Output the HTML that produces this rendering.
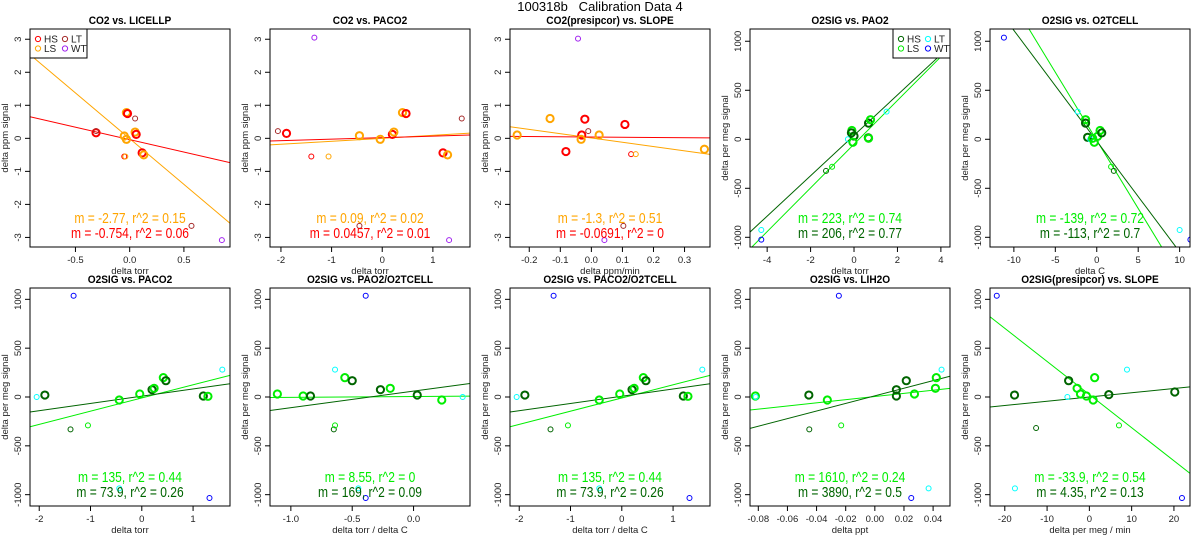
<!DOCTYPE html>
<html><head><meta charset="utf-8"><style>
html,body{margin:0;padding:0;background:#fff;}
svg{display:block;font-family:"Liberation Sans",sans-serif;}
</style></head><body>
<svg id="chart" width="1200" height="550" xmlns="http://www.w3.org/2000/svg">
<rect width="1200" height="550" fill="#fff"/>
<text x="600" y="11" text-anchor="middle" font-size="13" fill="#000" style="white-space:pre">100318b   Calibration Data 4</text>
</svg>
<script>
// ---------- data ----------
const p1X=[-0.31,-0.31,-0.03,-0.02,0.05,-0.05,-0.03,0.05,0.06,0.115,0.13,-0.05,-0.04,0.57,0.85];
const p1Y=[0.17,0.22,0.78,0.75,0.6,0.07,-0.03,0.19,0.12,-0.44,-0.5,-0.55,-0.55,-2.65,-3.08];
const p1G=['HS','LT','LS','HS','LT','LS','LS','LS','HS','HS','LS','hs','ls','LT','WT'];
const p1Slope=[-2.77,-0.754], p1Int=[-0.01,-0.04], p1R2=[0.15,0.06];

const p2X=[-2.06,-1.89,-1.34,-1.40,-1.06,-0.45,-0.45,-0.04,0.2,0.23,0.40,0.47,1.2,1.29,1.57,1.32];
const p2Y=[0.22,0.15,3.05,-0.55,-0.55,0.08,-2.65,-0.03,0.12,0.19,0.78,0.75,-0.44,-0.5,0.6,-3.08];
const p2G=['LT','HS','WT','hs','ls','LS','LT','LS','HS','LS','LS','HS','HS','LS','LT','WT'];
const p2Slope=[0.09,0.0457], p2Int=[0.0,0.02], p2R2=[0.02,0.01];

const p3X=[-0.239,-0.133,-0.043,-0.021,-0.082,-0.031,-0.033,-0.01,0.025,0.108,0.128,0.143,0.103,0.042,0.364];
const p3Y=[0.1,0.6,3.02,0.58,-0.4,0.1,-0.03,0.22,0.1,0.42,-0.48,-0.48,-2.65,-3.08,-0.33];
const p3G=['LS','LS','WT','HS','HS','HS','LS','LT','LS','HS','hs','ls','LT','WT','LS'];
const p3Slope=[-1.3,-0.0691], p3Int=[0.01,0.04], p3R2=[0.51,0];

const p4X=[-4.27,-4.27,-1.29,-1.01,-0.28,-0.1,-0.12,0,-0.05,0.67,0.76,0.66,0.67,1.5];
const p4Y=[-925,-1024,-323,-280,0,90,65,34,-30,165,200,15,10,282];
const p4G=['LT','WT','hs','ls','LT','LS','HS','HS','LS','HS','LS','HS','LS','LT'];
const p4Slope=[223,206], p4Int=[-50,40], p4R2=[0.74,0.77];

const p5X=[-11.2,-2.3,-1.35,-1.35,-1.1,-0.8,-0.5,-0.3,0.1,0.4,0.6,1.73,2.06,10.0,11.3];
const p5Y=[1037,282,200,165,20,0,10,-30,30,90,65,-280,-323,-925,-1024];
const p5G=['WT','LT','LS','HS','HS','LT','LS','LS','LS','LS','HS','ls','hs','LT','WT'];
const p5Slope=[-139,-113], p5Int=[-11,-19], p5R2=[0.72,0.7];

const p6X=[-2.05,-1.89,-1.33,-1.39,-1.05,-0.44,-0.44,-0.04,0.2,0.24,0.42,0.47,1.2,1.29,1.32,1.57];
const p6Y=[0,20,1037,-331,-290,-31,-935,31,75,89,198,167,10,7,-1034,280];
const p6G=['LT','HS','WT','hs','ls','LS','LT','LS','HS','LS','LS','HS','HS','LS','WT','LT'];
const p6Slope=[135,73.9], p6Int=[-10,8], p6R2=[0.44,0.26];

const p7X=[-1.11,-0.9,-0.84,-0.65,-0.64,-0.64,-0.56,-0.5,-0.45,-0.39,-0.39,-0.27,-0.19,0.03,0.23,0.4];
const p7Y=[31,10,10,-331,-290,280,198,167,-935,1037,-1034,75,89,20,-31,0];
const p7G=['LS','LS','HS','hs','ls','LT','LS','HS','LT','WT','WT','HS','LS','HS','LS','LT'];
const p7Slope=[8.55,169], p7Int=[5,60], p7R2=[0,0.09];

const p8X=p6X.slice(), p8Y=p6Y.slice(), p8G=p6G.slice();
const p8Slope=[135,73.9], p8Int=[-10,8], p8R2=[0.44,0.26];

const p9X=[-0.082,-0.0818,-0.0453,-0.045,-0.0326,-0.0247,-0.0231,0.0148,0.0148,0.0216,0.0272,0.025,0.0369,0.0416,0.0422,0.0458];
const p9Y=[10,0,20,-331,-31,1037,-290,75,10,167,31,-1034,-935,89,198,280];
const p9G=['LS','LT','HS','hs','LS','WT','ls','HS','HS','HS','LS','WT','LT','LS','LS','LT'];
const p9Slope=[1610,3890], p9Int=[5,12], p9R2=[0.24,0.5];

const p10X=[-21.9,-17.7,-17.6,-12.6,-5.2,-4.9,-2.9,-2.1,-0.7,0.9,1.25,4.6,7.0,8.9,20.2,21.9];
const p10Y=[1037,20,-935,-318,0,167,89,31,10,-31,198,24,-290,280,51,-1034];
const p10G=['WT','HS','LT','hs','LT','HS','LS','LS','LS','LS','LS','HS','ls','LT','HS','WT'];
const p10Slope=[-33.9,4.35], p10Int=[25,0], p10R2=[0.54,0.13];

// ---------- layout ----------
const panels=[
 {id:'co2-vs-licellp',title:'CO2 vs. LICELLP',xlab:'delta torr',ylab:'delta ppm signal',col:0,row:0,xr:[-0.919,0.925],yr:[-3.29,3.31],xt:[-0.5,0,0.5],yt:[-3,-2,-1,0,1,2,3],xtl:['-0.5','0.0','0.5'],kind:'co2',X:p1X,Y:p1Y,G:p1G,S:p1Slope,I:p1Int,R:p1R2,legend:true},
 {id:'co2-vs-paco2',title:'CO2 vs. PACO2',xlab:'delta torr',ylab:'delta ppm signal',col:1,row:0,xr:[-2.216,1.733],yr:[-3.29,3.31],xt:[-2,-1,0,1],yt:[-3,-2,-1,0,1,2,3],kind:'co2',X:p2X,Y:p2Y,G:p2G,S:p2Slope,I:p2Int,R:p2R2},
 {id:'co2-presipcor-vs-slope',title:'CO2(presipcor) vs. SLOPE',xlab:'delta ppm/min',ylab:'delta ppm signal',col:2,row:0,xr:[-0.262,0.382],yr:[-3.29,3.31],xt:[-0.2,-0.1,0,0.1,0.2,0.3],xtl:['-0.2','-0.1','0.0','0.1','0.2','0.3'],yt:[-3,-2,-1,0,1,2,3],kind:'co2',X:p3X,Y:p3Y,G:p3G,S:p3Slope,I:p3Int,R:p3R2},
 {id:'o2sig-vs-pao2',title:'O2SIG vs. PAO2',xlab:'delta torr',ylab:'delta per meg signal',col:3,row:0,xr:[-4.79,4.42],yr:[-1099,1125],xt:[-4,-2,0,2,4],yt:[-1000,-500,0,500,1000],kind:'o2',X:p4X,Y:p4Y,G:p4G,S:p4Slope,I:p4Int,R:p4R2,legend:true},
 {id:'o2sig-vs-o2tcell',title:'O2SIG vs. O2TCELL',xlab:'delta C',ylab:'delta per meg signal',col:4,row:0,xr:[-12.88,11.25],yr:[-1099,1125],xt:[-10,-5,0,5,10],yt:[-1000,-500,0,500,1000],kind:'o2',X:p5X,Y:p5Y,G:p5G,S:p5Slope,I:p5Int,R:p5R2},
 {id:'o2sig-vs-paco2',title:'O2SIG vs. PACO2',xlab:'delta torr',ylab:'delta per meg signal',col:0,row:1,xr:[-2.18,1.72],yr:[-1116,1116],xt:[-2,-1,0,1],yt:[-1000,-500,0,500,1000],kind:'o2',X:p6X,Y:p6Y,G:p6G,S:p6Slope,I:p6Int,R:p6R2},
 {id:'o2sig-vs-pao2-o2tcell',title:'O2SIG vs. PAO2/O2TCELL',xlab:'delta torr / delta C',ylab:'delta per meg signal',col:1,row:1,xr:[-1.17,0.46],yr:[-1116,1116],xt:[-1,-0.5,0],xtl:['-1.0','-0.5','0.0'],yt:[-1000,-500,0,500,1000],kind:'o2',X:p7X,Y:p7Y,G:p7G,S:p7Slope,I:p7Int,R:p7R2},
 {id:'o2sig-vs-paco2-o2tcell',title:'O2SIG vs. PACO2/O2TCELL',xlab:'delta torr / delta C',ylab:'delta per meg signal',col:2,row:1,xr:[-2.18,1.72],yr:[-1116,1116],xt:[-2,-1,0,1],yt:[-1000,-500,0,500,1000],kind:'o2',X:p8X,Y:p8Y,G:p8G,S:p8Slope,I:p8Int,R:p8R2},
 {id:'o2sig-vs-lih2o',title:'O2SIG vs. LIH2O',xlab:'delta ppt',ylab:'delta per meg signal',col:3,row:1,xr:[-0.0857,0.0516],yr:[-1116,1116],xt:[-0.08,-0.06,-0.04,-0.02,0,0.02,0.04],xtl:['-0.08','-0.06','-0.04','-0.02','0.00','0.02','0.04'],yt:[-1000,-500,0,500,1000],kind:'o2',X:p9X,Y:p9Y,G:p9G,S:p9Slope,I:p9Int,R:p9R2},
 {id:'o2sig-presipcor-vs-slope',title:'O2SIG(presipcor) vs. SLOPE',xlab:'delta per meg / min',ylab:'delta per meg signal',col:4,row:1,xr:[-23.5,23.8],yr:[-1116,1116],xt:[-20,-10,0,10,20],yt:[-1000,-500,0,500,1000],kind:'o2',X:p10X,Y:p10Y,G:p10G,S:p10Slope,I:p10Int,R:p10R2}
];
const palettes={
 co2:{HS:'#FF0000',LS:'#FFA500',hs:'#FF0000',ls:'#FFA500',LT:'#A52A2A',WT:'#A020F0'},
 o2:{HS:'#006400',LS:'#00EE00',hs:'#006400',ls:'#00EE00',LT:'#00FFFF',WT:'#0000FF'}
};
const NS='http://www.w3.org/2000/svg';
const svg=document.getElementById('chart');
function mk(tag,attrs,parent){const e=document.createElementNS(NS,tag);for(const k in attrs)e.setAttribute(k,attrs[k]);(parent||svg).appendChild(e);return e;}

panels.forEach((p,pi)=>{
 const L=240*p.col+30, R=L+200, T=p.row?288:29, B=p.row?506:247;
 const sx=v=>L+(v-p.xr[0])/(p.xr[1]-p.xr[0])*(R-L);
 const sy=v=>B-(v-p.yr[0])/(p.yr[1]-p.yr[0])*(B-T);
 const pal=palettes[p.kind];
 const g=mk('g',{});
 
 
 const cp=mk('clipPath',{id:'cp'+pi},g);
 mk('rect',{x:L,y:T,width:R-L,height:B-T},cp);
 const t=mk('text',{x:0,y:0,'text-anchor':'middle','font-size':11,'font-weight':'bold',fill:'#000',transform:`translate(${(L+R)/2},${T-5}) scale(0.92,1)`},g);
 t.textContent=p.title;
 
 
 p.xt.forEach((v,i)=>{
  const x=sx(v);
  mk('line',{x1:x,x2:x,y1:B,y2:B+5,stroke:'#000','stroke-width':1},g);
  const tl=mk('text',{x:x,y:B+16,'text-anchor':'middle','font-size':9.5,fill:'#222'},g);
  tl.textContent=p.xtl?p.xtl[i]:String(v);
  
  
 });
 const xl=mk('text',{x:(L+R)/2,y:B+27,'text-anchor':'middle','font-size':9.5,fill:'#222'},g);
 xl.textContent=p.xlab;
 
 
 p.yt.forEach(v=>{
  const y=sy(v);
  mk('line',{x1:L-5,x2:L,y1:y,y2:y,stroke:'#000','stroke-width':1},g);
  const tl=mk('text',{x:0,y:0,'text-anchor':'middle','font-size':9.5,fill:'#222',transform:`translate(${L-9},${y}) rotate(-90)`},g);
  tl.textContent=String(v);
  
  
 });
 const yl=mk('text',{x:0,y:0,'text-anchor':'middle','font-size':9.5,fill:'#222',transform:`translate(${L-22},${(T+B)/2}) rotate(-90)`},g);
 yl.textContent=p.ylab;
 
 
 const lg=mk('g',{'clip-path':`url(#cp${pi})`},g);
 ['LS','HS'].forEach((grp,k)=>{
  const ln=mk('line',{x1:sx(p.xr[0]),y1:sy(p.I[k]+p.S[k]*p.xr[0]),x2:sx(p.xr[1]),y2:sy(p.I[k]+p.S[k]*p.xr[1]),stroke:pal[grp],'stroke-width':1},lg);
  
  
 });
 p.X.forEach((xv,i)=>{
  const grp=p.G[i], big=(grp==='HS'||grp==='LS');
  const c=mk('circle',{cx:sx(xv),cy:sy(p.Y[i]),r:big?3.6:2.5,fill:'none',stroke:pal[grp],'stroke-width':big?2:1},lg);
  
  
 });
 [['LS',0,B-24],['HS',1,B-9]].forEach(([grp,k,y])=>{
  const a=mk('text',{x:0,y:0,'text-anchor':'middle','font-size':14.5,fill:pal[grp],transform:`translate(${(L+R)/2},${y}) scale(0.83,1)`},g);
  a.textContent='m = '+p.S[k]+', r^2 = '+p.R[k];
  
  
 });
 if(p.legend){
  const lw=57, lh=29, lx=p.kind==='co2'?L:R-lw, ly=T;
  const leg=mk('g',{},g);
  
  
  mk('rect',{x:lx,y:ly,width:lw,height:lh,fill:'#fff',stroke:'#000','stroke-width':1},leg);
  [['HS',0,0],['LS',0,1],['LT',1,0],['WT',1,1]].forEach(([grp,cx,cy])=>{
   const ex=lx+8+cx*27, ey=ly+10+cy*9.5;
   mk('circle',{cx:ex,cy:ey,r:2.6,fill:'none',stroke:pal[grp],'stroke-width':1},leg);
   const tx=mk('text',{x:ex+6,y:ey+3.5,'font-size':10,fill:'#222'},leg);
   tx.textContent=grp;
   
   
  });
 }
 const box=mk('rect',{x:L,y:T,width:R-L,height:B-T,fill:'none',stroke:'#000','stroke-width':1},g);
 
 
});
</script>
</body></html>
